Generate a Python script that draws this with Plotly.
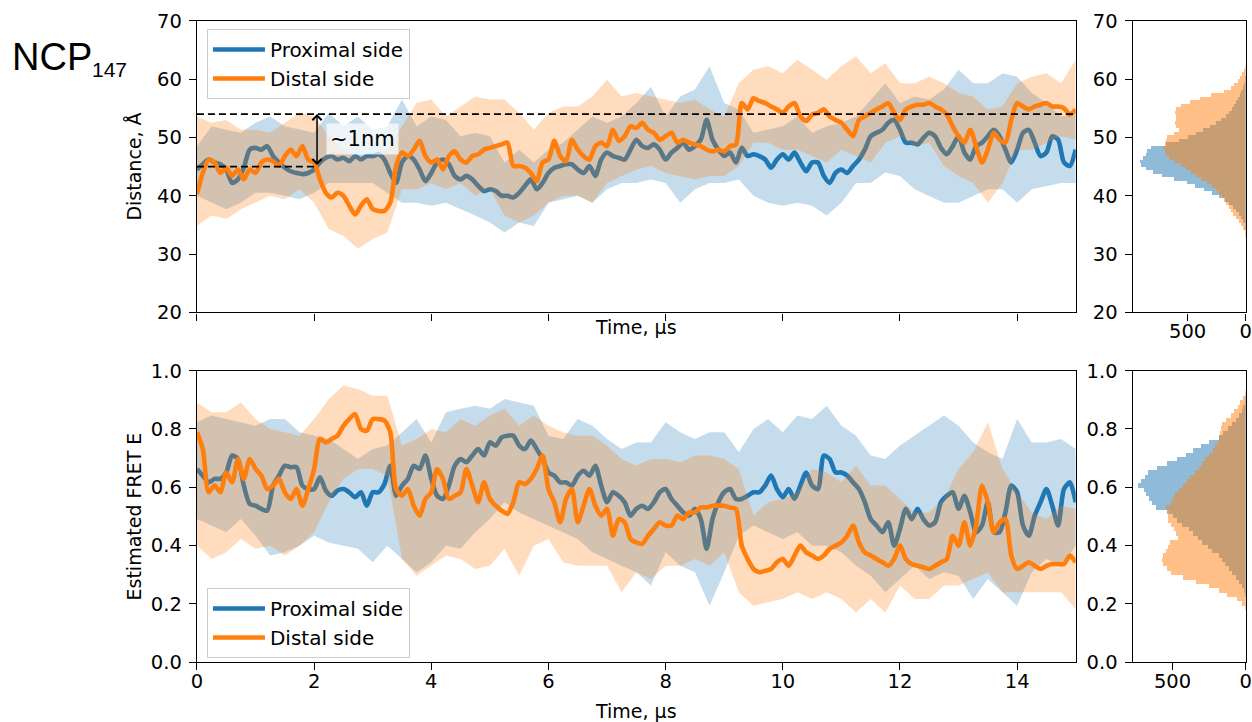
import numpy as np
import plotly.graph_objects as go

# ---------------- data ----------------
t_smooth = np.round(np.arange(0, 151) * 0.1, 2)      # µs, smoothed samples
t_raw = np.round(np.arange(0, 61) * 0.25, 2)         # µs, raw-trace envelope samples

prox_dist_smooth = [44.5,45.4,46.2,45.7,45.4,44.5,42.2,42.8,44.8,47.9,
 48.2,47.9,48.5,46.8,45.7,44.8,44.2,43.9,43.7,43.9,
 44.5,45.7,46.5,46.8,46.2,46.5,45.9,46.8,46.2,46.8,
 46.8,47.1,46.2,43.9,42.2,45.7,46.8,46.2,44.5,42.5,
 43.9,45.7,46.2,45.4,43.4,42.8,43.4,42.8,41.7,40.8,
 41.1,40.8,40.0,40.0,39.7,40.5,41.7,42.8,41.1,42.2,
 43.9,44.8,45.1,45.4,45.4,44.5,43.9,45.1,43.4,46.2,
 47.4,46.8,46.5,46.2,47.9,49.6,48.5,48.2,48.8,47.9,
 46.2,47.4,48.2,49.1,47.9,48.5,49.6,53.0,49.6,47.9,
 46.8,47.4,45.7,48.2,46.8,47.1,46.8,46.2,44.8,46.2,
 47.1,46.2,47.4,45.7,44.2,45.7,45.7,43.4,42.2,43.9,
 44.5,43.9,45.1,46.2,47.9,50.2,50.8,51.3,52.5,53.0,
 51.3,49.1,49.1,48.8,49.9,50.8,50.2,48.2,47.1,48.5,
 50.2,47.4,46.2,48.5,49.1,50.2,51.3,50.2,47.9,45.7,
 47.9,50.8,51.3,49.1,46.8,47.4,50.2,49.6,45.7,45.1,
 47.9]

dist_dist_smooth = [40.3,43.9,46.2,45.7,43.9,44.8,43.4,44.5,42.8,44.5,
 43.9,45.7,46.2,45.9,45.1,46.8,47.9,46.8,48.5,46.2,
 45.7,42.8,40.5,39.7,40.5,40.0,38.3,36.8,38.3,39.4,
 37.7,37.4,37.4,38.8,45.1,47.4,46.8,47.9,49.4,46.8,
 45.7,46.2,44.5,46.8,47.6,46.2,45.7,46.8,47.1,47.9,
 48.2,48.5,48.8,49.1,45.1,45.1,44.8,43.9,42.5,45.7,
 46.2,49.4,46.8,45.9,49.6,47.9,46.8,46.2,48.5,49.1,
 48.5,51.3,49.4,50.2,51.9,51.6,52.5,51.3,50.8,49.6,
 50.2,50.8,49.1,49.6,49.1,48.8,48.5,47.9,47.6,47.9,
 47.6,48.5,48.8,55.9,54.8,56.7,56.2,55.9,55.3,54.8,
 54.2,55.3,55.9,53.6,52.8,53.9,54.2,54.8,53.6,53.0,
 52.5,51.3,50.2,53.0,53.6,54.2,54.8,55.3,55.9,54.2,
 53.0,54.8,55.3,55.6,55.6,55.9,55.3,54.8,53.9,51.9,
 50.2,49.1,51.3,48.5,45.7,47.9,50.8,49.6,49.1,53.0,
 55.9,55.3,54.8,55.3,55.6,55.9,55.3,55.3,55.0,53.9,
 54.8]

prox_fret_smooth = [0.663,0.640,0.617,0.629,0.629,0.651,0.709,0.697,0.606,0.543,
 0.537,0.526,0.520,0.606,0.640,0.674,0.669,0.669,0.606,0.594,
 0.594,0.634,0.589,0.571,0.589,0.594,0.583,0.566,0.583,0.537,
 0.583,0.583,0.611,0.674,0.571,0.606,0.629,0.674,0.663,0.709,
 0.629,0.571,0.560,0.606,0.674,0.697,0.686,0.709,0.731,0.709,
 0.754,0.743,0.771,0.777,0.777,0.743,0.731,0.760,0.731,0.697,
 0.651,0.640,0.617,0.617,0.606,0.640,0.657,0.640,0.674,0.606,
 0.549,0.583,0.571,0.549,0.503,0.526,0.537,0.526,0.549,0.583,
 0.594,0.560,0.537,0.514,0.503,0.526,0.491,0.389,0.491,0.549,
 0.583,0.594,0.560,0.560,0.571,0.583,0.583,0.606,0.640,0.594,
 0.566,0.594,0.560,0.606,0.651,0.606,0.594,0.709,0.697,0.651,
 0.651,0.640,0.617,0.594,0.549,0.491,0.469,0.446,0.480,0.400,
 0.457,0.526,0.491,0.526,0.491,0.469,0.480,0.549,0.571,0.583,
 0.526,0.571,0.514,0.446,0.469,0.549,0.446,0.446,0.514,0.606,
 0.583,0.469,0.434,0.503,0.549,0.594,0.537,0.469,0.594,0.617,
 0.549]

dist_fret_smooth = [0.789,0.731,0.583,0.606,0.583,0.651,0.617,0.697,0.629,0.697,
 0.663,0.640,0.594,0.606,0.629,0.583,0.560,0.594,0.537,0.594,
 0.663,0.766,0.754,0.766,0.777,0.811,0.834,0.851,0.800,0.794,
 0.834,0.834,0.829,0.789,0.594,0.571,0.594,0.537,0.503,0.560,
 0.583,0.663,0.629,0.560,0.571,0.583,0.663,0.606,0.549,0.617,
 0.560,0.537,0.520,0.509,0.549,0.617,0.611,0.629,0.663,0.709,
 0.594,0.549,0.480,0.560,0.594,0.480,0.537,0.594,0.537,0.503,
 0.526,0.434,0.491,0.480,0.423,0.411,0.406,0.434,0.457,0.480,
 0.469,0.469,0.503,0.491,0.514,0.514,0.531,0.531,0.537,0.537,
 0.537,0.531,0.526,0.400,0.354,0.320,0.309,0.314,0.320,0.343,
 0.354,0.331,0.366,0.400,0.377,0.366,0.354,0.366,0.389,0.400,
 0.411,0.434,0.469,0.411,0.377,0.366,0.354,0.343,0.331,0.354,
 0.400,0.354,0.337,0.331,0.326,0.320,0.331,0.343,0.354,0.434,
 0.400,0.480,0.400,0.469,0.606,0.549,0.446,0.480,0.491,0.366,
 0.320,0.331,0.343,0.331,0.320,0.331,0.337,0.337,0.337,0.366,
 0.343]

# raw-trace envelopes (upper / lower extent of the unsmoothed signal)
prox_dist_hi = [48.5,51.9,51.3,50.8,52.5,53.6,51.9,51.3,50.8,54.2,
 51.9,53.6,51.3,51.9,56.5,51.9,53.6,53.0,50.2,50.8,
 50.2,45.7,47.9,45.7,47.9,49.1,51.3,53.6,52.5,53.6,
 55.9,58.7,53.6,57.0,58.2,62.2,55.9,54.8,50.8,51.3,
 51.9,53.6,50.8,51.9,52.5,53.6,56.5,59.3,55.9,57.0,
 56.5,58.2,61.6,59.3,59.3,61.0,60.4,57.6,55.9,53.6,
 54.2]
prox_dist_lo = [40.0,38.8,37.7,38.8,40.5,40.5,40.0,39.4,40.5,42.2,
 42.2,42.2,42.2,40.5,38.8,38.8,38.3,38.8,37.7,36.6,
 35.4,33.7,35.4,34.8,38.8,39.4,40.0,38.8,41.1,42.2,
 42.2,42.8,42.2,38.8,41.1,42.2,42.2,42.8,40.0,38.8,
 38.3,38.8,38.3,36.6,38.8,42.2,42.2,44.0,43.4,41.1,
 40.0,38.8,38.8,40.0,41.1,41.1,38.8,41.1,41.7,42.2,
 42.2]
dist_dist_hi = [53.6,52.5,53.0,51.3,51.3,50.8,52.5,54.2,53.6,50.2,
 47.9,46.8,46.8,47.9,51.9,55.9,56.5,53.6,55.3,57.0,
 56.5,56.5,54.2,51.3,54.2,55.3,55.3,57.0,59.9,57.0,
 57.6,57.0,56.5,55.9,56.5,54.8,53.6,59.3,61.6,62.2,
 61.0,63.3,61.6,59.9,62.2,63.9,61.0,62.7,59.3,59.3,
 60.4,59.3,57.6,57.0,54.8,55.3,59.3,60.4,61.0,59.3,
 63.3]
dist_dist_lo = [34.8,36.6,36.0,37.7,38.8,40.0,39.4,41.1,38.8,34.3,
 33.1,30.9,32.6,33.7,41.1,41.1,42.2,41.1,42.2,40.0,
 41.1,36.6,35.4,36.6,38.8,40.0,40.0,38.8,42.2,43.4,
 44.5,45.1,43.9,43.4,42.8,43.4,43.4,45.1,49.1,49.1,
 47.9,47.9,46.8,45.7,47.9,46.8,45.7,49.1,50.2,48.5,
 49.1,45.1,43.4,42.2,38.8,42.2,47.9,47.9,49.1,50.2,
 49.6]

prox_fret_hi = [0.823,0.846,0.834,0.823,0.811,0.834,0.834,0.789,0.777,0.766,
 0.731,0.697,0.731,0.743,0.789,0.834,0.754,0.857,0.869,0.880,
 0.869,0.903,0.891,0.880,0.777,0.766,0.834,0.811,0.766,0.731,
 0.754,0.754,0.823,0.789,0.766,0.789,0.789,0.720,0.800,0.834,
 0.789,0.846,0.834,0.880,0.811,0.777,0.709,0.697,0.743,0.777,
 0.811,0.846,0.811,0.754,0.720,0.697,0.834,0.754,0.754,0.766,
 0.731]
prox_fret_lo = [0.491,0.469,0.446,0.491,0.434,0.366,0.377,0.400,0.434,0.411,
 0.400,0.389,0.343,0.400,0.354,0.309,0.343,0.400,0.389,0.446,
 0.491,0.549,0.514,0.491,0.469,0.446,0.423,0.377,0.354,0.331,
 0.309,0.263,0.377,0.331,0.309,0.194,0.309,0.434,0.469,0.446,
 0.423,0.446,0.400,0.400,0.377,0.331,0.297,0.240,0.286,0.331,
 0.286,0.309,0.297,0.217,0.286,0.240,0.194,0.309,0.354,0.331,
 0.400]
dist_fret_hi = [0.891,0.857,0.857,0.891,0.834,0.800,0.789,0.777,0.834,0.903,
 0.949,0.937,0.914,0.914,0.743,0.766,0.800,0.789,0.834,0.811,
 0.846,0.869,0.811,0.846,0.811,0.789,0.777,0.777,0.743,0.697,
 0.674,0.697,0.697,0.686,0.709,0.709,0.697,0.663,0.503,0.549,
 0.560,0.583,0.663,0.651,0.617,0.674,0.606,0.606,0.560,0.514,
 0.514,0.560,0.663,0.720,0.823,0.663,0.583,0.514,0.491,0.537,
 0.526]
dist_fret_lo = [0.400,0.354,0.377,0.423,0.389,0.400,0.366,0.400,0.446,0.549,
 0.629,0.663,0.663,0.640,0.354,0.297,0.331,0.366,0.354,0.320,
 0.331,0.389,0.297,0.400,0.423,0.343,0.331,0.331,0.331,0.240,
 0.309,0.286,0.331,0.331,0.354,0.331,0.377,0.240,0.194,0.206,
 0.217,0.240,0.217,0.240,0.217,0.171,0.217,0.171,0.263,0.217,
 0.217,0.263,0.263,0.286,0.309,0.240,0.240,0.240,0.240,0.240,
 0.183]

# histograms (counts per bin)
dist_bin_edges = np.linspace(33.0, 63.0, 51)
prox_dist_counts = [0,2,5,12,25,40,60,85,115,150,185,230,290,360,440,510,620,720,800,860,
 900,915,890,860,850,820,690,576,500,434,370,310,260,215,175,145,118,100,85,70,
 55,40,30,20,12,6,3,1,0,0]
dist_dist_counts = [5,12,25,40,65,85,108,128,148,170,191,210,234,262,291,335,385,430,470,520,
 560,620,660,690,700,710,700,690,676,620,576,600,610,605,600,610,600,560,480,400,
 300,190,130,100,70,50,35,22,10,3]

fret_bin_edges = np.linspace(0.18, 0.93, 51)
prox_fret_counts = [0,0,2,5,15,28,45,70,95,118,145,165,185,230,260,300,330,360,390,440,
 470,500,540,615,640,660,680,700,735,715,690,670,610,541,470,410,360,310,250,185,
 160,125,95,70,50,30,18,10,4,1]
dist_fret_counts = [5,25,65,130,185,250,345,430,510,540,565,575,570,545,530,520,465,480,495,510,
 530,530,525,550,515,500,485,460,430,400,380,350,320,300,280,255,228,210,195,185,
 178,172,165,140,105,80,58,40,20,6]

ref_upper_nm = 54.0     # Å, dashed reference levels
ref_lower_nm = 45.0
ref_lower_end = 2.05    # µs

series_names = ["Proximal side", "Distal side"]
BLUE = "#1f77b4"
ORANGE = "#ff7f0e"
BLUE_RAW = "rgba(31,119,180,0.26)"
ORANGE_RAW = "rgba(255,127,14,0.27)"
BLUE_HIST = "rgba(31,119,180,0.5)"
ORANGE_HIST = "rgba(255,127,14,0.5)"
FONT = "DejaVu Sans"
TICK_SIZE = 19.5
LABEL_SIZE = 19

fig = go.Figure()

def add_band(t, lo, hi, color, xa, ya):
    t = np.asarray(t)
    fig.add_trace(go.Scatter(
        x=np.concatenate([t, t[::-1]]),
        y=np.concatenate([np.asarray(hi), np.asarray(lo)[::-1]]),
        fill="toself", fillcolor=color, mode="lines", line=dict(width=0),
        hoverinfo="skip", showlegend=False, xaxis=xa, yaxis=ya))

def add_line(t, y, color, name, xa, ya, legend):
    fig.add_trace(go.Scatter(x=t, y=y, mode="lines",
                             line=dict(color=color, width=4.6, shape="spline", smoothing=0.7),
                             name=name, legend=legend, xaxis=xa, yaxis=ya))

# top panel: distance
add_band(t_raw, prox_dist_lo, prox_dist_hi, BLUE_RAW, "x", "y")
add_line(t_smooth, prox_dist_smooth, BLUE, series_names[0], "x", "y", "legend")
add_band(t_raw, dist_dist_lo, dist_dist_hi, ORANGE_RAW, "x", "y")
add_line(t_smooth, dist_dist_smooth, ORANGE, series_names[1], "x", "y", "legend")

# dashed reference lines
fig.add_trace(go.Scatter(x=[0, 15], y=[ref_upper_nm, ref_upper_nm], mode="lines",
                         line=dict(color="black", width=1.7, dash="7px,4px"),
                         showlegend=False, hoverinfo="skip", xaxis="x", yaxis="y"))
fig.add_trace(go.Scatter(x=[0, ref_lower_end], y=[ref_lower_nm, ref_lower_nm], mode="lines",
                         line=dict(color="black", width=1.7, dash="7px,4px"),
                         showlegend=False, hoverinfo="skip", xaxis="x", yaxis="y"))

# bottom panel: FRET
add_band(t_raw, prox_fret_lo, prox_fret_hi, BLUE_RAW, "x3", "y3")
add_line(t_smooth, prox_fret_smooth, BLUE, series_names[0], "x3", "y3", "legend2")
add_band(t_raw, dist_fret_lo, dist_fret_hi, ORANGE_RAW, "x3", "y3")
add_line(t_smooth, dist_fret_smooth, ORANGE, series_names[1], "x3", "y3", "legend2")

# histograms
def centers(edges):
    return (edges[:-1] + edges[1:]) / 2

dw = dist_bin_edges[1] - dist_bin_edges[0]
fw = fret_bin_edges[1] - fret_bin_edges[0]
fig.add_trace(go.Bar(y=centers(dist_bin_edges), x=prox_dist_counts, orientation="h", width=dw,
                     marker=dict(color=BLUE_HIST, line=dict(width=0)), showlegend=False,
                     xaxis="x2", yaxis="y2"))
fig.add_trace(go.Bar(y=centers(dist_bin_edges), x=dist_dist_counts, orientation="h", width=dw,
                     marker=dict(color=ORANGE_HIST, line=dict(width=0)), showlegend=False,
                     xaxis="x2", yaxis="y2"))
fig.add_trace(go.Bar(y=centers(fret_bin_edges), x=prox_fret_counts, orientation="h", width=fw,
                     marker=dict(color=BLUE_HIST, line=dict(width=0)), showlegend=False,
                     xaxis="x4", yaxis="y4"))
fig.add_trace(go.Bar(y=centers(fret_bin_edges), x=dist_fret_counts, orientation="h", width=fw,
                     marker=dict(color=ORANGE_HIST, line=dict(width=0)), showlegend=False,
                     xaxis="x4", yaxis="y4"))

ax = dict(showline=True, mirror=True, linecolor="black", linewidth=1.3,
          ticks="outside", ticklen=7, tickwidth=1.3, tickcolor="black",
          showgrid=False, zeroline=False, automargin=False,
          tickfont=dict(family=FONT, size=TICK_SIZE, color="black"))
xax = dict(ax, ticklabelstandoff=-6)
yax = dict(ax, ticklabelstandoff=3)

MAIN_X = [0.1573, 0.8592]
HIST_X = [0.9047, 0.9950]
TOP_Y = [0.5673, 0.9713]
BOT_Y = [0.0827, 0.4866]

leg = dict(xanchor="left", yanchor="top", itemwidth=52,
           bgcolor="rgba(255,255,255,0.8)", bordercolor="#cccccc", borderwidth=1,
           font=dict(family=FONT, size=20, color="black"))

fig.update_layout(
    width=1252, height=722, margin=dict(l=0, r=0, t=0, b=0, autoexpand=False),
    paper_bgcolor="white", plot_bgcolor="white",
    barmode="overlay", bargap=0,
    font=dict(family=FONT, size=18, color="black"),
    xaxis=dict(xax, domain=MAIN_X, anchor="y", range=[0, 15], tick0=0, dtick=2, showticklabels=False),
    yaxis=dict(yax, domain=TOP_Y, anchor="x", range=[20, 70], tick0=20, dtick=10),
    xaxis2=dict(xax, domain=HIST_X, anchor="y2", range=[972, 0], tick0=0, dtick=500),
    yaxis2=dict(yax, domain=TOP_Y, anchor="x2", range=[20, 70], tick0=20, dtick=10),
    xaxis3=dict(xax, domain=MAIN_X, anchor="y3", range=[0, 15], tick0=0, dtick=2),
    yaxis3=dict(yax, domain=BOT_Y, anchor="x3", range=[0, 1], tick0=0, dtick=0.2, tickformat=".1f"),
    xaxis4=dict(xax, domain=HIST_X, anchor="y4", range=[772, 0], tick0=0, dtick=500),
    yaxis4=dict(yax, domain=BOT_Y, anchor="x4", range=[0, 1], tick0=0, dtick=0.2, tickformat=".1f"),
    legend=dict(leg, x=0.1653, y=0.9598),
    legend2=dict(leg, x=0.1653, y=0.1856),
)

ann = []
ann.append(dict(text="NCP", x=10/1252, y=1-57/722, xref="paper", yref="paper",
                xanchor="left", yanchor="middle", showarrow=False,
                font=dict(family="Liberation Sans", size=38, color="black")))
ann.append(dict(text="147", x=90/1252, y=1-69.5/722, xref="paper", yref="paper",
                xanchor="left", yanchor="middle", showarrow=False,
                font=dict(family="Liberation Sans", size=21, color="black")))
ann.append(dict(text="Time, µs", x=sum(MAIN_X)/2, y=1-327/722, xref="paper", yref="paper",
                xanchor="center", yanchor="middle", showarrow=False,
                font=dict(family=FONT, size=LABEL_SIZE, color="black")))
ann.append(dict(text="Time, µs", x=sum(MAIN_X)/2, y=1-711/722, xref="paper", yref="paper",
                xanchor="center", yanchor="middle", showarrow=False,
                font=dict(family=FONT, size=LABEL_SIZE, color="black")))
ann.append(dict(text="Distance, Å", x=134/1252, y=sum(TOP_Y)/2, xref="paper", yref="paper",
                xanchor="center", yanchor="middle", showarrow=False, textangle=-90,
                font=dict(family=FONT, size=LABEL_SIZE, color="black")))
ann.append(dict(text="Estimated FRET E", x=134/1252, y=sum(BOT_Y)/2, xref="paper", yref="paper",
                xanchor="center", yanchor="middle", showarrow=False, textangle=-90,
                font=dict(family=FONT, size=LABEL_SIZE, color="black")))
# double-headed arrow between reference lines
ann.append(dict(x=ref_lower_end, y=ref_upper_nm, ax=ref_lower_end, ay=ref_lower_nm,
                xref="x", yref="y", axref="x", ayref="y", text="", showarrow=True,
                arrowhead=4, startarrowhead=4, arrowside="end+start",
                arrowsize=1.2, startarrowsize=1.2, arrowwidth=1.5, arrowcolor="black"))
ann.append(dict(text="~1nm", x=2.82, y=49.7, xref="x", yref="y", showarrow=False,
                xanchor="center", yanchor="middle", bgcolor="rgba(255,255,255,0.7)",
                borderpad=3, font=dict(family=FONT, size=21, color="black")))
fig.update_layout(annotations=ann)

fig.write_html("out.html")
